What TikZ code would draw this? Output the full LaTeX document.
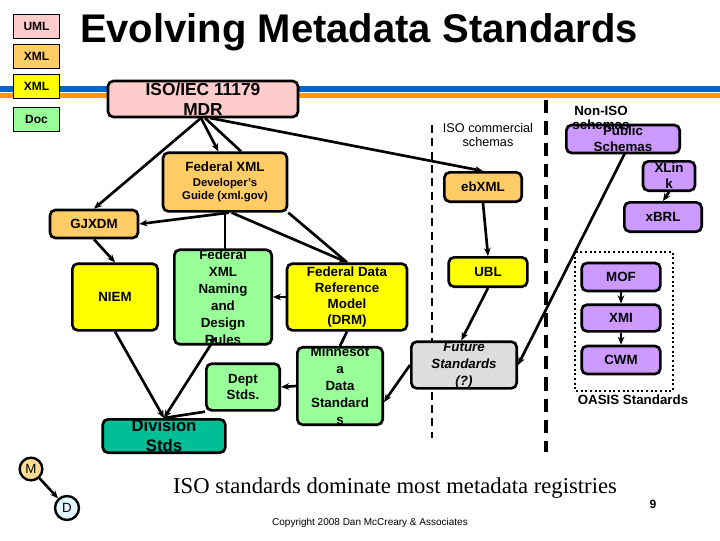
\documentclass[tikz,border=0pt]{standalone}
\usepackage{fontspec}
\setmainfont{Liberation Sans}
\newfontfamily\serifx{Liberation Serif}
\usetikzlibrary{arrows.meta}
\definecolor{cpink}{RGB}{255,204,204}
\definecolor{corange}{RGB}{255,204,102}
\definecolor{cyel}{RGB}{255,255,0}
\definecolor{cgreen}{RGB}{153,255,153}
\definecolor{cpurp}{RGB}{204,153,255}
\definecolor{cteal}{RGB}{0,190,150}
\definecolor{cgray}{RGB}{221,221,221}
\definecolor{cblue}{RGB}{0,102,204}
\definecolor{corg}{RGB}{255,153,0}
\begin{document}
\begin{tikzpicture}[x=0.75pt,y=-0.75pt,
  bx/.style={draw=black,line width=2pt,rounded corners=4pt,font=\bfseries\fontsize{10}{12}\selectfont,align=center,inner sep=0pt},
  leg/.style={draw=black,line width=0.6pt,font=\bfseries\fontsize{9}{10}\selectfont,inner sep=0pt,minimum width=35pt,minimum height=18pt},
  ar/.style={line width=2pt,-{Stealth[length=6pt,width=5pt]}},
  ln/.style={line width=2pt}]
\useasboundingbox (0,0) rectangle (720,540);
\fill[white] (0,0) rectangle (720,540);
% bands
\fill[cblue] (0,86) rectangle (720,92);
\fill[corg] (0,93) rectangle (720,98);
% legend
\node[leg,fill=cpink] (l1) at (36.5,26) {UML};
\node[leg,fill=corange] (l2) at (36.5,56) {XML};
\node[leg,fill=cyel] (l3) at (36.5,86) {XML};
\node[leg,fill=cgreen] (l4) at (36.5,119) {Doc};
\node[font=\bfseries\fontsize{30}{32}\selectfont] (title) at (359,32) {Evolving Metadata Standards};
% dashed lines
\coordinate (d1a) at (432,125); \coordinate (d1b) at (432,438);
\draw[line width=1.5pt,dash pattern=on 6pt off 4pt] (d1a) -- (d1b);
\coordinate (d2a) at (546,100); \coordinate (d2b) at (546,452);
\draw[line width=2.5pt,dash pattern=on 10pt off 6pt] (d2a) -- (d2b);
% nodes
\node[bx,fill=cpink,minimum width=142.5pt,minimum height=27pt,font=\bfseries\fontsize{13}{15}\selectfont] (mdr) at (203,99) {ISO/IEC 11179\\MDR};
\node[bx,fill=corange,minimum width=93pt,minimum height=44pt] (fxg) at (225,182) {Federal XML\\[-1pt]{\fontsize{8.5}{10}\selectfont Developer's}\\[-2pt]{\fontsize{8.5}{10}\selectfont Guide (xml.gov)}};
\node[bx,fill=corange,minimum width=66pt,minimum height=21pt] (gj) at (94,224) {GJXDM};
\node[bx,fill=corange,minimum width=58pt,minimum height=22pt] (eb) at (483,187) {ebXML};
\node[font=\fontsize{9.5}{11}\selectfont,align=center] (isoc) at (488,135) {ISO commercial\\schemas};
\node[bx,fill=cpurp,minimum width=85pt,minimum height=21pt] (pub) at (623,139) {Public\\Schemas};
\node[font=\bfseries\fontsize{10}{12}\selectfont] (nonis) at (601,111) {Non-ISO};
\node[font=\bfseries\fontsize{10}{12}\selectfont] (nonis2) at (601,125) {schemas};
\node[bx,fill=cpurp,minimum width=39pt,minimum height=22pt] (xl) at (669,176) {XLin\\k};
\node[bx,fill=cpurp,minimum width=58pt,minimum height=22pt] (xb) at (663,217) {xBRL};
\draw[line width=1.5pt,dotted] (575,252) rectangle (673,391);
\node[bx,fill=cpurp,minimum width=59pt,minimum height=21pt] (mof) at (621,277) {MOF};
\node[bx,fill=cpurp,minimum width=59pt,minimum height=20pt] (xmi) at (621,318) {XMI};
\node[bx,fill=cpurp,minimum width=59pt,minimum height=21pt] (cwm) at (621,360) {CWM};
\node[font=\bfseries\fontsize{10}{12}\selectfont] (oasis) at (633,400) {OASIS Standards};
\node[bx,fill=cyel,minimum width=64pt,minimum height=50pt] (niem) at (115,297) {NIEM};
\node[bx,fill=cgreen,minimum width=73pt,minimum height=50pt,font=\bfseries\fontsize{10}{12.7}\selectfont] (fnr) at (223,297) {Federal\\XML\\Naming\\and\\Design\\Rules};
\node[bx,fill=cyel,minimum width=90pt,minimum height=50pt,font=\bfseries\fontsize{10}{12.2}\selectfont] (drm) at (347,297) {Federal Data\\Reference\\Model\\(DRM)};
\node[bx,fill=cyel,minimum width=59pt,minimum height=22pt] (ubl) at (488,272) {UBL};
\node[bx,fill=cgreen,minimum width=64pt,minimum height=48pt,font=\bfseries\fontsize{10}{12.7}\selectfont] (mn) at (340,386) {Minnesot\\a\\Data\\Standard\\s};
\node[bx,fill=cgray,minimum width=79pt,minimum height=35pt,font=\bfseries\itshape\fontsize{10}{12.7}\selectfont] (fut) at (464,365) {Future\\Standards\\(?)};
\node[bx,fill=cgreen,minimum width=55pt,minimum height=35pt] (dept) at (243,387) {Dept\\Stds.};
\node[bx,fill=cteal,minimum width=92pt,minimum height=25pt,font=\bfseries\fontsize{12.5}{15}\selectfont] (div) at (164,436) {Division\\Stds};
\node[circle,draw=black,line width=1.8pt,fill=corange!70,inner sep=0pt,minimum size=17pt,font=\fontsize{10}{12}\selectfont] (m) at (31,469) {M};
\node[circle,draw=black,line width=1.8pt,fill=cyan!12,inner sep=0pt,minimum size=18pt,font=\fontsize{10}{12}\selectfont] (d) at (67,508) {D};
\node[font=\serifx\fontsize{17}{20}\selectfont] (iso) at (395,488) {ISO standards dominate most metadata registries};
\node[font=\bfseries\fontsize{9}{10}\selectfont] (pg) at (653,504) {9};
\node[font=\fontsize{7.5}{9}\selectfont] (copy) at (370,523) {Copyright 2008 Dan McCreary \& Associates};
% edges
\draw[ar] (m) -- (d);
\draw[ar] (201,118) -- (gj.north);
\draw[ar] (201,118) -- ([xshift=-5]fxg.north);
\draw[ln] (205,118) -- ([xshift=12]fxg.north);
\draw[ar] (210,118) -- (eb.north);
\draw[ar] ([xshift=3]fxg.south) -- (gj.east);
\draw[ln] (fxg.south) -- (225,250);
\draw[ar] ([xshift=5]fxg.south) -- (drm.north);
\draw[ln] (fxg.south east) -- (drm.north);
\draw[ar] (gj.south) -- (niem.north);
\draw[ar] (drm.west) -- (fnr.east);
\draw[ln] (drm.south) -- (mn.north);
\draw[ar] (niem.south) -- (div.north);
\draw[ar] (215,338) -- (div.north);
\draw[ln] (dept.south west) -- (div.north);
\draw[ar] (mn.west) -- (dept.east);
\draw[ar] (fut.west) -- ([yshift=-12]mn.east);
\draw[ar] (ubl.south) -- ([xshift=-2]fut.north);
\draw[ar] (eb.south) -- (ubl.north);
\draw[ar] (625,153) -- (fut.east);
\draw[ar] (xl.south) -- (xb.north);
\draw[ar] (mof) -- (xmi);
\draw[ar] (xmi) -- (cwm);
\end{tikzpicture}
\end{document}
